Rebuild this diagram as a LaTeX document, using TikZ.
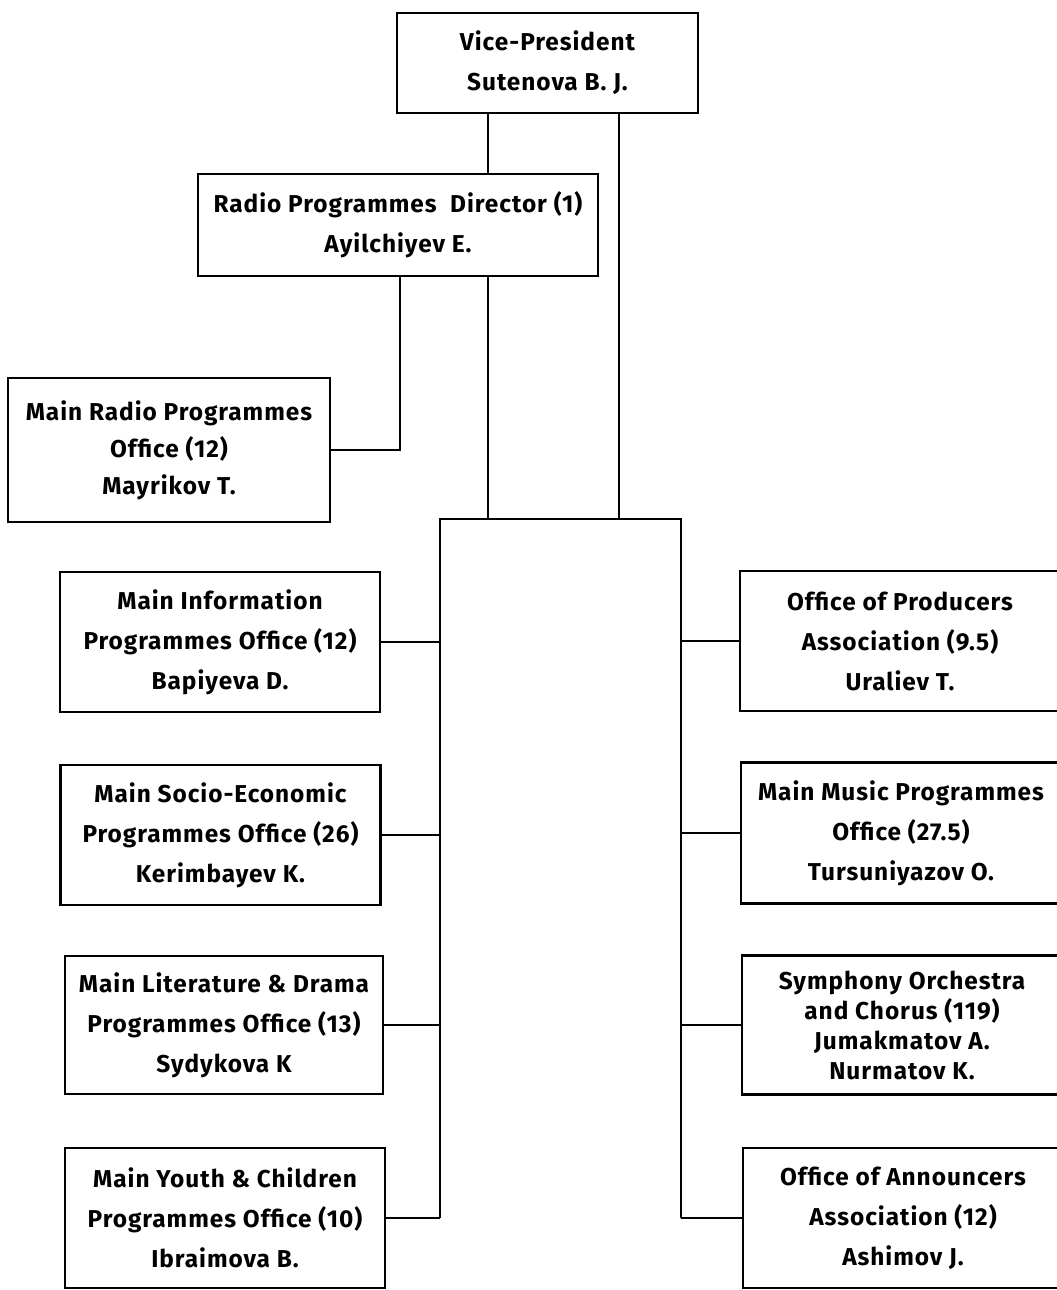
\documentclass[tikz,border=0pt]{standalone}
\usepackage{fontspec}
\setmainfont{Fira Sans}[LetterSpace=4]
\usetikzlibrary{positioning}

\begin{document}
\begin{tikzpicture}[x=1pt,y=-1pt,line width=2.4pt,
  office/.style={draw,rectangle,inner sep=0pt,align=center,minimum width=320pt,minimum height=140pt,
    font=\bfseries\fontsize{24.4}{40}\selectfont},
  tight/.style={font=\bfseries\fontsize{24.4}{30}\selectfont}]
\useasboundingbox (0,0) rectangle (1057,1290);
\node[office,minimum width=301pt,minimum height=100pt] (vp) at (547.5,63) {Vice-President\\Sutenova B. J.};
\node[office,minimum width=400pt,minimum height=102pt] (dir) at (398,225) {Radio Programmes\ \ Director (1)\\Ayilchiyev E.};
\node[office,minimum width=322pt,minimum height=144pt,font=\bfseries\fontsize{24.4}{37}\selectfont] (mrp) at (169,450) {Main Radio Programmes\\Office (12)\\Mayrikov T.};
\node[office] (info) at (220,642) {Main Information\\Programmes Office (12)\\Bapiyeva D.};
\node[office] (socio) at (220.5,835) {Main Socio-Economic\\Programmes Office (26)\\Kerimbayev K.};
\node[office,minimum width=318pt,minimum height=138pt] (lit) at (224,1025) {Main Literature \& Drama\\Programmes Office (13)\\Sydykova K};
\node[office] (youth) at (225,1218) {Main Youth \& Children\\Programmes Office (10)\\Ibraimova B.};
\node[office] (prod) at (900,641) {Office of Producers\\Association (9.5)\\Uraliev T.};
\node[office,minimum height=141pt] (music) at (901,833) {Main Music Programmes\\Office (27.5)\\Tursuniyazov O.};
\node[office,minimum height=139pt,tight] (symph) at (902,1025) {Symphony Orchestra\\and Chorus (119)\\Jumakmatov A.\\Nurmatov K.};
\node[office] (ann) at (903,1218) {Office of Announcers\\Association (12)\\Ashimov J.};
\coordinate (stem) at (488,0);
\coordinate (drop) at (619,0);
\coordinate (side) at (400,0);
\coordinate (busL) at (440,519);
\coordinate (busR) at (681,519);
\draw (vp.south -| stem) -- (dir.north -| stem);
\draw (dir.south -| stem) -- (stem |- busL);
\draw (vp.south -| drop) -- (drop |- busL);
\draw (dir.south -| side) |- (mrp.east);
\draw (busL |- youth.east) -- (busL) -- (busR) -- (busR |- ann.west);
\foreach \n in {info,socio,lit,youth}
  \draw (\n.east) -- (\n.east -| busL);
\foreach \n in {prod,music,symph,ann}
  \draw (\n.west) -- (\n.west -| busR);
\end{tikzpicture}
\end{document}
